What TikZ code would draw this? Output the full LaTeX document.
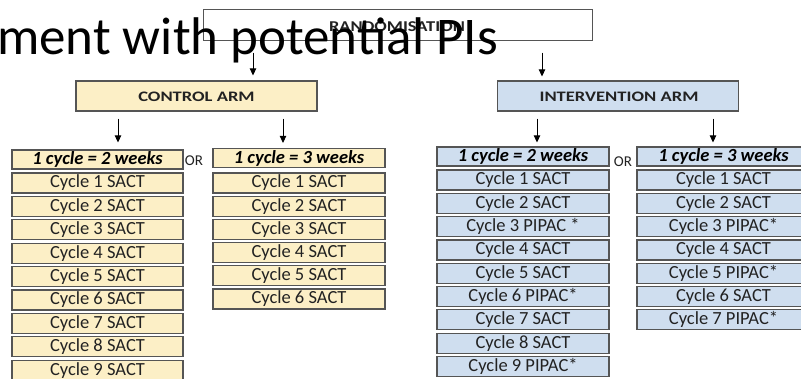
\documentclass[tikz,border=0pt]{standalone}
\usepackage{fontspec}
\setmainfont{Carlito}
\usetikzlibrary{arrows.meta}

\definecolor{ctrlfill}{HTML}{FCEFC6}
\definecolor{intfill}{HTML}{CFDEEF}
\definecolor{edgegray}{HTML}{555555}
\definecolor{txtgray}{HTML}{222222}

\tikzset{
  cell/.style={draw=edgegray, line width=1.2pt, inner sep=0pt, minimum height=20pt,
    text=txtgray, font=\fontsize{18.5}{18.5}\selectfont},
  ctrlcell/.style={cell, fill=ctrlfill, minimum width=171pt},
  intcell/.style={cell, fill=intfill, minimum width=172pt},
  headcell/.style={font=\fontsize{18.5}{18.5}\selectfont\bfseries\itshape, text=black, minimum height=19pt},
  armbox/.style={draw=edgegray, line width=1.2pt, inner sep=0pt, minimum width=241pt, minimum height=30pt},
  armtext/.style={font=\fontsize{14.5}{14.5}\selectfont\bfseries, text=txtgray},
  ortext/.style={inner sep=0pt, font=\fontsize{15}{15}\selectfont, text=txtgray},
  arr/.style={line width=0.9pt, -{Triangle[width=6.5pt,length=7pt]}}
}

\begin{document}
\begin{tikzpicture}[x=1pt,y=-1pt]
\useasboundingbox (0,0) rectangle (801,378);
\clip (0,0) rectangle (801,378);

% randomisation box (outline only)
\node[draw=edgegray, line width=1pt, inner sep=0pt, minimum width=389pt, minimum height=31pt]
  (rand) at (397.5,24.5) {};
\node[inner sep=0pt, font=\fontsize{15}{15}\selectfont\bfseries, text=txtgray]
  (randlabel) at (397,27) {\scalebox{1.23}[1]{RANDOMISATION}};

% slide title
\node[anchor=base west, inner sep=0pt, font=\fontsize{53}{53}\selectfont]
  (title) at (-3,54) {ment with potential PIs};

% arm boxes
\node[armbox, fill=ctrlfill] (ctrl) at (196.5,96) {};
\node[armtext] (ctrllabel) at (196.5,97) {\scalebox{1.28}[1]{CONTROL ARM}};
\node[armbox, fill=intfill] (int) at (618,96) {};
\node[armtext] (intlabel) at (619,97) {\scalebox{1.28}[1]{INTERVENTION ARM}};

% arrow columns
\coordinate (xa) at (253,0);
\coordinate (xb) at (542,0);
\coordinate (xc) at (118,0);
\coordinate (xd) at (283,0);
\coordinate (xe) at (537,0);
\coordinate (xf) at (713,0);

% control arm, 2-week cycles
\node[ctrlcell, headcell] (c1h) at (97.5,159.5) {1 cycle = 2 weeks};
\foreach \i in {1,...,9}
  \node[ctrlcell] (c1r\i) at (97.5,{183+23.4*(\i-1)}) {Cycle \i{} SACT};

% control arm, 3-week cycles
\node[ctrlcell, headcell, minimum width=172pt] (c2h) at (299,158) {1 cycle = 3 weeks};
\foreach \i in {1,...,6}
  \node[ctrlcell, minimum width=172pt] (c2r\i) at (299,{183+23.2*(\i-1)}) {Cycle \i{} SACT};

\node[ortext] (or1) at (194,161) {OR};

% intervention arm, 2-week cycles
\node[intcell, headcell] (i1h) at (523,156.5) {1 cycle = 2 weeks};
\foreach \t [count=\i] in {Cycle 1 SACT, Cycle 2 SACT, Cycle 3 PIPAC *, Cycle 4 SACT,
    Cycle 5 SACT, Cycle 6 PIPAC*, Cycle 7 SACT, Cycle 8 SACT, Cycle 9 PIPAC*}
  \node[intcell] (i1r\i) at (523,{180+23.3*(\i-1)}) {\t};

% intervention arm, 3-week cycles
\node[intcell, headcell, minimum width=173pt] (i2h) at (723.5,156.5) {1 cycle = 3 weeks};
\foreach \t [count=\i] in {Cycle 1 SACT, Cycle 2 SACT, Cycle 3 PIPAC*, Cycle 4 SACT,
    Cycle 5 PIPAC*, Cycle 6 SACT, Cycle 7 PIPAC*}
  \node[intcell, minimum width=173pt] (i2r\i) at (723.5,{180+23.3*(\i-1)}) {\t};

\node[ortext] (or2) at (623,162) {OR};

% connectors
\draw[arr, shorten <=12pt, shorten >=5pt] (rand.south -| xa) -- (ctrl.north -| xa);
\draw[arr, shorten <=12pt, shorten >=4pt] (rand.south -| xb) -- (int.north -| xb);
\draw[arr, shorten <=7pt, shorten >=7pt] (ctrl.south -| xc) -- (c1h.north -| xc);
\draw[arr, shorten <=7pt, shorten >=5pt] (ctrl.south -| xd) -- (c2h.north -| xd);
\draw[arr, shorten <=7pt, shorten >=4pt] (int.south -| xe) -- (i1h.north -| xe);
\draw[arr, shorten <=7pt, shorten >=4pt] (int.south -| xf) -- (i2h.north -| xf);
\end{tikzpicture}
\end{document}
